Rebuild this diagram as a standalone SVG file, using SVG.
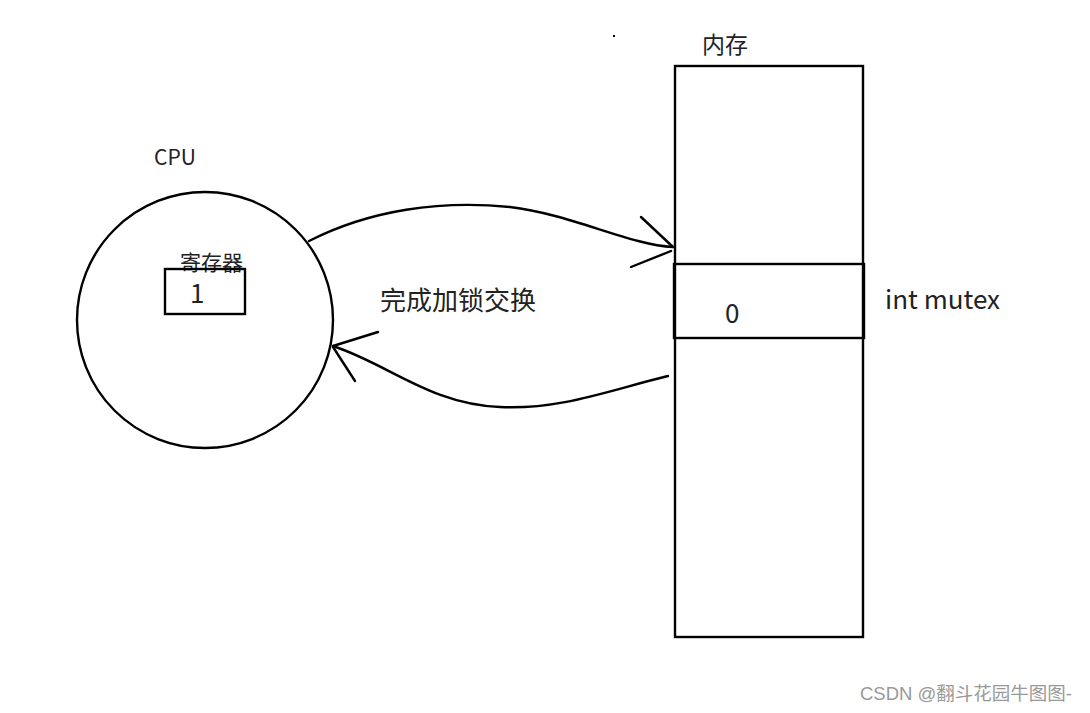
<svg xmlns="http://www.w3.org/2000/svg" width="1090" height="713" viewBox="0 0 1090 713">
<style>
.s{fill:none;stroke:#000;stroke-width:2.4;stroke-linecap:round}
.t{font-family:"Microsoft YaHei","Noto Sans CJK SC","Noto Sans",sans-serif;fill:#222}
</style>
<rect width="1090" height="713" fill="#fff"/>
<g id="cpu">
<circle class="s" cx="205" cy="320" r="128"/>
<text class="t" x="154" y="165" font-size="21">CPU</text>
</g>
<g id="register">
<text class="t" x="180" y="270" font-size="21">寄存器</text>
<rect class="s" x="165" y="269" width="80" height="45" stroke-width="2.6"/>
<text class="t" x="190" y="303" font-size="26">1</text>
</g>
<g id="memory">
<text class="t" x="702" y="53" font-size="23">内存</text>
<rect x="613" y="35" width="2" height="2" fill="#000"/>
<rect class="s" x="675" y="66" width="188" height="571"/>
</g>
<g id="mutex">
<rect class="s" x="674" y="264" width="190" height="74" stroke-width="3"/>
<text class="t" x="725" y="323" font-size="26">0</text>
<text class="t" x="885" y="309" font-size="26">int mutex</text>
</g>
<g id="label">
<text class="t" x="380" y="310" font-size="26">完成加锁交换</text>
</g>
<g id="connectors">
<path class="s" d="M309 241 C370 210 440 200 510 207 C570 214 630 245 673 247"/>
<path class="s" d="M641 217 L673 247 M631 267 L671 251"/>
<path class="s" d="M668 376 C610 390 560 410 500 407 C430 404 390 365 333 346"/>
<path class="s" d="M378 332 L333 346 M355 381 L333 347"/>
</g>
<text x="860" y="700" font-family="Arial,'Liberation Sans','Noto Sans CJK SC',sans-serif" font-size="18.5" fill="#999">CSDN @翻斗花园牛图图-</text>
</svg>
